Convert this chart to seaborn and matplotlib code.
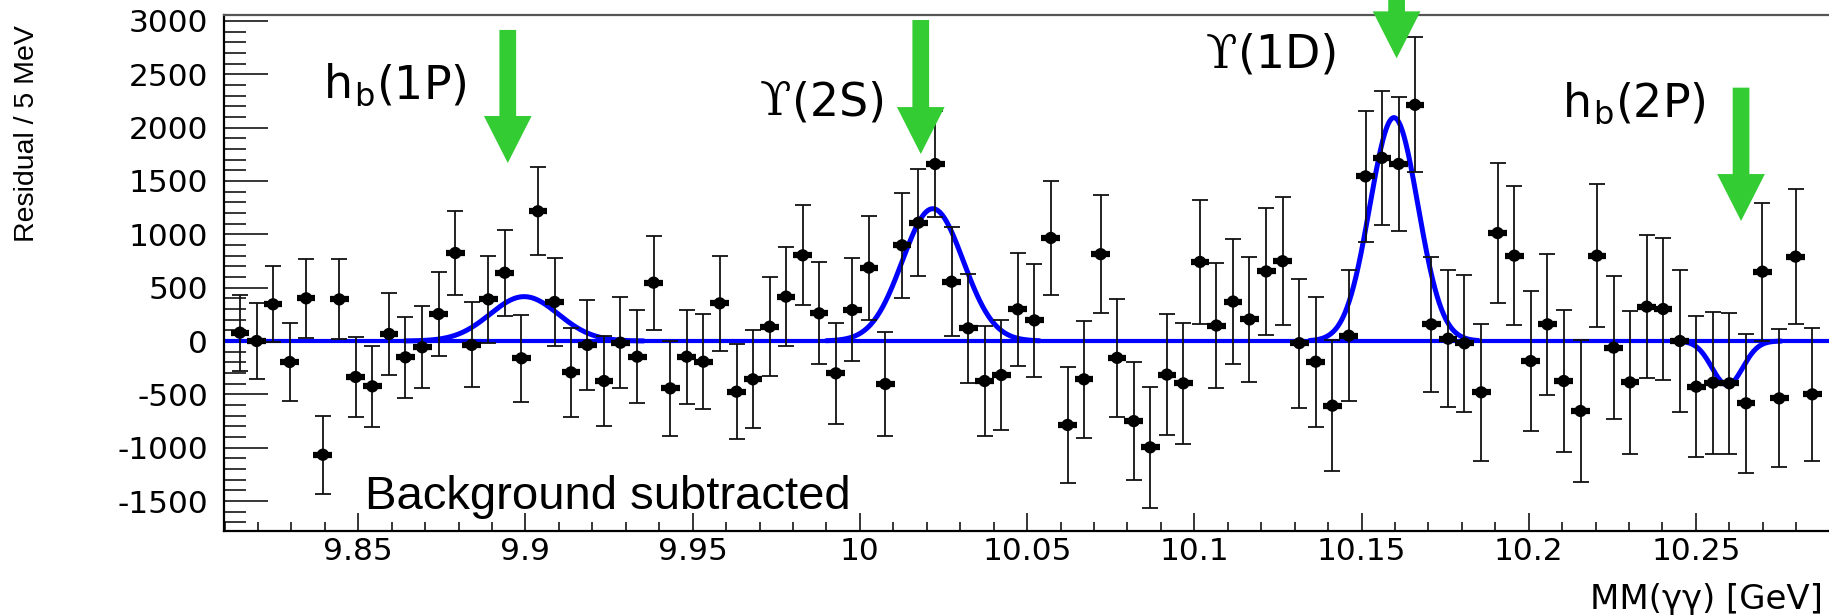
import numpy as np
import matplotlib
matplotlib.use("Agg")
import matplotlib.pyplot as plt
import seaborn as sns
from matplotlib import font_manager
from matplotlib.ticker import MultipleLocator, FuncFormatter
from matplotlib.patches import FancyArrow

# ---------------- data ----------------
mass = [9.8146, 9.8196, 9.8245, 9.8295, 9.8344, 9.8394, 9.8443, 9.8492, 9.8542, 9.8592,
        9.8641, 9.8691, 9.8740, 9.8790, 9.8839, 9.8889, 9.8938, 9.8988, 9.9037, 9.9087,
        9.9136, 9.9185, 9.9235, 9.9284, 9.9334, 9.9383, 9.9433, 9.9482, 9.9532, 9.9581,
        9.9631, 9.9680, 9.9730, 9.9779, 9.9829, 9.9878, 9.9928, 9.9977, 10.0027, 10.0076,
        10.0126, 10.0175, 10.0225, 10.0274, 10.0324, 10.0373, 10.0423, 10.0472, 10.0522, 10.0571,
        10.0621, 10.0670, 10.0720, 10.0769, 10.0819, 10.0868, 10.0918, 10.0967, 10.1017, 10.1066,
        10.1116, 10.1165, 10.1215, 10.1264, 10.1314, 10.1363, 10.1413, 10.1462, 10.1512, 10.1561,
        10.1611, 10.1660, 10.1709, 10.1759, 10.1808, 10.1858, 10.1907, 10.1957, 10.2006, 10.2056,
        10.2105, 10.2155, 10.2204, 10.2254, 10.2303, 10.2353, 10.2402, 10.2452, 10.2501, 10.2551,
        10.2600, 10.2650, 10.2699, 10.2749, 10.2798, 10.2848]

residual = [78, 0, 344, -197, 400, -1066, 390, -337, -425, 66,
            -153, -59, 253, 825, -37, 390, 640, -162, 1216, 366,
            -294, -37, -375, -16, -147, 547, -444, -147, -194, 353,
            -475, -359, 134, 416, 803, 259, -303, 291, 688, -403,
            897, 1109, 1659, 556, 119, -375, -319, 297, 193, 966,
            -787, -359, 814, -158, -751, -997, -315, -397, 741, 145,
            370, 202, 652, 748, -20, -194, -606, 50, 1543, 1717,
            1660, 2214, 156, 22, -22, -481, 1012, 800, -188, 156,
            -375, -656, 800, -62, -388, 322, 300, 0, -428, -391,
            -397, -584, 650, -538, 791, -500]

error = [356, 359, 355, 362, 370, 366, 375, 374, 381, 381,
         381, 386, 392, 394, 398, 405, 405, 409, 411, 409,
         416, 425, 422, 428, 434, 441, 445, 441, 448, 447,
         447, 458, 466, 467, 469, 477, 473, 483, 488, 488,
         495, 500, 498, 510, 511, 512, 516, 528, 528, 536,
         543, 550, 555, 555, 553, 564, 564, 570, 583, 583,
         583, 588, 594, 600, 605, 610, 612, 615, 615, 627,
         627, 634, 636, 640, 645, 645, 653, 650, 656, 658,
         664, 670, 670, 670, 672, 672, 670, 666, 664, 666,
         664, 652, 647, 647, 636, 623]

# fitted signal components
peak_prefix = ["h", "\u03d2", "\u03d2", "h"]
peak_suffix = ["$_\\mathregular{b}$(1P)", "(2S)", "(1D)", "$_\\mathregular{b}$(2P)"]
peak_mean = [9.8996, 10.0218, 10.1597, 10.2594]
peak_amp = [416, 1240, 2094, -412]
peak_sigma = [0.0102, 0.0091, 0.0072, 0.0046]

# arrows (mass position, top of shaft, tip) and label anchor points (pixels)
arrow_x = [9.8947, 10.0182, 10.1605, 10.2635]
arrow_top = [2916, 3009, 3300, 2375]
arrow_tip = [1669, 1753, 2650, 1125]
label_px = [(324, 98), (760, 115), (1206, 68), (1563, 117)]

# ---------------- style ----------------
sns.set_theme(style="ticks")
plt.rcParams["font.family"] = ["DejaVu Sans"]
plt.rcParams["axes.unicode_minus"] = False
plt.rcParams["mathtext.fontset"] = "dejavusans"

names = {f.name for f in font_manager.fontManager.ttflist}
if "Liberation Sans Narrow" in names:
    ylab_family, ylab_size = "Liberation Sans Narrow", 25
else:
    ylab_family, ylab_size = "Liberation Sans", 20.5

W, H = 1829, 615
fig = plt.figure(figsize=(W / 100, H / 100), dpi=100)
ax = fig.add_axes([224 / W, (H - 531) / H, (1840 - 224) / W, (531 - 15) / H])

xmin, xmax = 9.80984, 10.29309
ax.set_xlim(xmin, xmax)
ax.set_ylim(-1781, 3056)

# zero baseline of the fit
ax.axhline(0, color="#0000ff", lw=3.0, zorder=2)

# signal gaussians
for m, a, s in zip(peak_mean, peak_amp, peak_sigma):
    xs = np.linspace(m - 3.5 * s, m + 3.5 * s, 300)
    ys = a * np.exp(-0.5 * ((xs - m) / s) ** 2)
    sns.lineplot(x=xs, y=ys, color="#0000ff", lw=3.6, ax=ax, sort=False,
                 estimator=None, zorder=2)

# data points
ax.errorbar(mass, residual, yerr=error, fmt="none", ecolor="#111111",
            elinewidth=1.3, capsize=6, capthick=1.3, zorder=3)
ax.errorbar(mass, residual, xerr=0.0028, fmt="none", ecolor="black",
            elinewidth=4.5, capsize=0, zorder=3)
sns.scatterplot(x=mass, y=residual, marker="o", s=78, color="black",
                edgecolor="none", linewidth=0, ax=ax, zorder=4, legend=False)

# arrows
for xa, yt, yp in zip(arrow_x, arrow_top, arrow_tip):
    arr = FancyArrow(xa, yt, 0, yp - yt, width=0.0050, head_width=0.01426,
                     head_length=440, length_includes_head=True,
                     color="#33cc33", lw=0, zorder=5, clip_on=False)
    ax.add_patch(arr)

# ticks and spines
ax.xaxis.set_major_locator(MultipleLocator(0.05))
ax.xaxis.set_minor_locator(MultipleLocator(0.01))
ax.yaxis.set_major_locator(MultipleLocator(500))
ax.yaxis.set_minor_locator(MultipleLocator(100))
ax.xaxis.set_major_formatter(FuncFormatter(lambda v, p: f"{round(v, 4):g}"))
ax.yaxis.set_major_formatter(FuncFormatter(lambda v, p: f"{int(round(v))}"))
ax.tick_params(axis="x", which="major", direction="in", length=13, width=1.1,
               labelsize=22.5, pad=4, top=False, color="black")
ax.tick_params(axis="x", which="minor", direction="in", length=6.5, width=1.1,
               top=False, color="black")
ax.tick_params(axis="y", which="major", direction="in", length=32, width=1.1,
               labelsize=22.5, pad=11.5, right=False, color="black")
ax.tick_params(axis="y", which="minor", direction="in", length=16, width=1.1,
               right=False, color="black")
for lab in ax.get_xticklabels() + ax.get_yticklabels():
    lab.set_color("black")
for side in ["left", "bottom"]:
    ax.spines[side].set_color("black")
    ax.spines[side].set_linewidth(1.6)
ax.spines["top"].set_color("#555555")
ax.spines["top"].set_linewidth(1.6)
ax.spines["right"].set_visible(False)
ax.set_xlabel("")
ax.set_ylabel("")

# axis titles
fig.text(1823 / W, (H - 600) / H, "MM(\u03b3\u03b3) [GeV]", ha="right", va="center",
         fontsize=24.5, color="black")
fig.text(27 / W, (H - 25) / H, "Residual / 5 MeV", rotation=90, ha="center", va="top",
         fontsize=ylab_size, family=ylab_family, color="black")

# annotations
fig.text(365 / W, (H - 509) / H, "Background subtracted", ha="left", va="baseline",
         fontsize=34, family="Liberation Sans", color="black")

renderer = fig.canvas.get_renderer()
for pre, suf, (px, py) in zip(peak_prefix, peak_suffix, label_px):
    fam = "DejaVu Serif" if pre == "\u03d2" else "DejaVu Sans"
    t1 = fig.text(px / W, (H - py) / H, pre, ha="left", va="baseline", fontsize=33,
                  family=fam, color="black")
    bb = t1.get_window_extent(renderer)
    fig.text((bb.x1 + 1) / W, (H - py) / H, suf, ha="left", va="baseline",
             fontsize=33, family="DejaVu Sans", color="black")

fig.savefig("out.png", dpi=100)
